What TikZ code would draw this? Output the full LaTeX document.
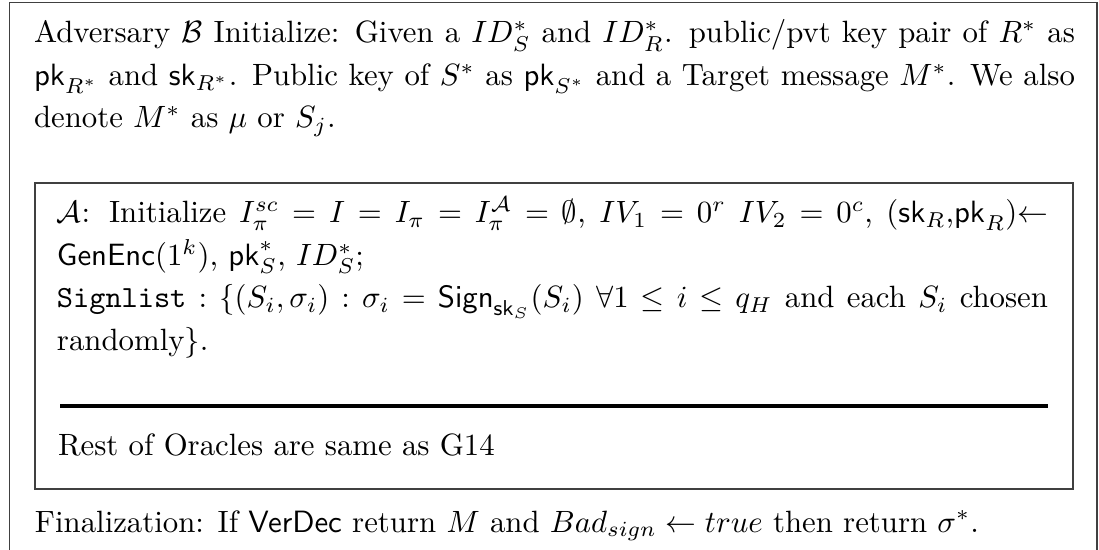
\documentclass[tikz,border=0pt]{standalone}
\usepackage{amsmath,amssymb}
\begin{document}
\begin{tikzpicture}[x=0.3247pt, y=-0.3247pt,
  boxline/.style={line width=0.5pt, draw=black!75},
  para/.style={inner sep=0pt, outer sep=0pt, align=justify, anchor=base west,
               font=\fontsize{10}{13.8}\selectfont},
  thickrule/.style={line width=1.6pt}]
\useasboundingbox (0,0) rectangle (1099,550);
% outer frame (open at the bottom)
\draw[boxline] (9.5,560) -- (9.5,2.5) -- (1097,2.5) -- (1097,560);
% header paragraph
\node[para, text width=338pt] (head) at (34,43) {Adversary $\mathcal{B}$ Initialize: Given a $ID^*_S$ and $ID^*_R$. public/pvt key pair of $R^*$ as\linebreak
$\mathsf{pk}_{R^*}$ and $\mathsf{sk}_{R^*}$. Public key of $S^*$ as $\mathsf{pk}_{S^*}$ and a Target message $M^*$. We also\linebreak
denote $M^*$ as $\mu$ or $S_j$.};
% inner game box
\draw[boxline] (35,183) rectangle (1073,489);
\node[para, text width=321.8pt] (init) at (57,223) {$\mathcal{A}$: Initialize $I^{sc}_{\pi} = I = I_{\pi} = I^{\mathcal{A}}_{\pi} = \emptyset$, $IV_1 = 0^r$ $IV_2 = 0^c$, $(\mathsf{sk}_R$,$\mathsf{pk}_R){\leftarrow}$\linebreak
$\mathsf{GenEnc}(1^k)$, $\mathsf{pk}^*_S$, $ID^*_S$;\\
\texttt{Signlist} $: \{(S_i,\sigma_i) : \sigma_i = \mathsf{Sign}_{\mathsf{sk}_S}(S_i)\ \forall 1 \leq i \leq q_H$ and each $S_i$ chosen\linebreak
randomly$\}$.};
\coordinate (ruleL) at (60,406);
\coordinate (ruleR) at (1048,406);
\draw[thickrule] (ruleL) -- (ruleR);
\node[para] (rest) at (58,455) {Rest of Oracles are same as G14};
% finalization
\node[para] (final) at (35,532) {Finalization: If $\mathsf{VerDec}$ return $M$ and $Bad_{sign} \leftarrow true$ then return $\sigma^*$.};
\end{tikzpicture}
\end{document}
